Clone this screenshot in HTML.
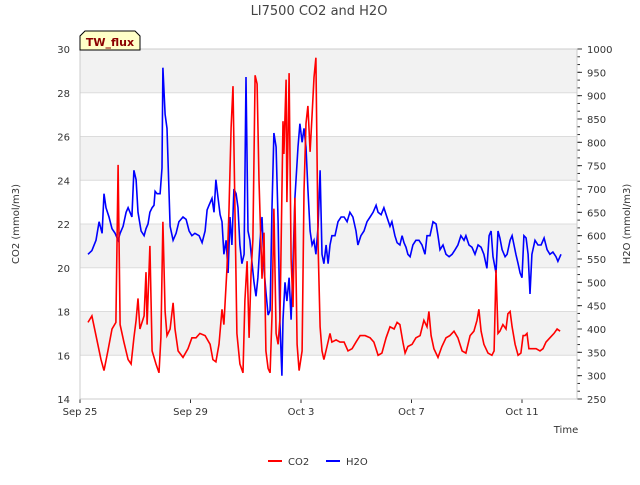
<!DOCTYPE html>
<html><head><meta charset="utf-8"><style>
body{margin:0;background:#fff;font-family:"Liberation Sans",sans-serif}
svg text{font-family:"DejaVu Sans","Liberation Sans",sans-serif}
</style></head><body>
<svg id="c" width="640" height="480" xmlns="http://www.w3.org/2000/svg"></svg>
<script>
const xTickLabels=["Sep 25","Sep 29","Oct 3","Oct 7","Oct 11"];
const xTickDays=[0,4,8,12,16];
const yLeftTicks=[14,16,18,20,22,24,26,28,30];
const yRightTicks=[250,300,350,400,450,500,550,600,650,700,750,800,850,900,950,1000];
const co2Days=[0.29,0.43,0.58,0.76,0.87,1.01,1.16,1.30,1.38,1.45,1.59,1.74,1.85,1.95,2.03,2.10,2.17,2.32,2.39,2.43,2.53,2.61,2.75,2.86,2.93,3.00,3.08,3.15,3.26,3.37,3.44,3.55,3.73,3.91,4.05,4.20,4.34,4.53,4.71,4.81,4.92,5.03,5.14,5.21,5.32,5.39,5.47,5.54,5.61,5.68,5.79,5.90,5.97,6.05,6.12,6.19,6.26,6.34,6.41,6.48,6.59,6.66,6.73,6.81,6.88,6.95,7.02,7.10,7.17,7.24,7.35,7.38,7.46,7.49,7.57,7.64,7.71,7.78,7.86,7.93,8.04,8.11,8.18,8.25,8.33,8.40,8.47,8.54,8.62,8.69,8.76,8.83,8.94,9.05,9.12,9.27,9.41,9.56,9.70,9.85,9.99,10.14,10.32,10.50,10.64,10.79,10.93,11.08,11.22,11.37,11.48,11.58,11.69,11.77,11.87,12.02,12.16,12.31,12.45,12.56,12.63,12.71,12.81,12.96,13.10,13.25,13.39,13.54,13.68,13.83,13.97,14.12,14.26,14.37,14.44,14.52,14.62,14.77,14.91,14.99,15.06,15.13,15.20,15.31,15.42,15.49,15.57,15.64,15.75,15.86,15.96,16.04,16.11,16.18,16.25,16.36,16.51,16.65,16.76,16.87,17.01,17.16,17.27,17.38];
const co2Values=[17.5,17.8,16.9,15.8,15.3,16.2,17.2,17.5,24.7,17.4,16.6,15.8,15.6,16.8,17.6,18.6,17.2,17.8,19.8,17.4,21,16.2,15.6,15.2,16.8,22.1,18,16.9,17.2,18.4,17.2,16.2,15.9,16.3,16.8,16.8,17,16.9,16.5,15.8,15.7,16.5,18.1,17.4,20,22.5,26.4,28.3,22.5,17,15.6,15.2,18.5,20.3,16.8,19.7,21.3,28.8,28.4,24,19.5,21.6,16.2,15.4,15.2,17.8,22.7,17,16.5,17.7,26.7,25.2,28.6,23,28.9,20.4,18.2,23.2,16.5,15.3,16.2,23.5,26.6,27.4,25.3,27,28.7,29.6,21,17.3,16.2,15.8,16.4,17,16.6,16.7,16.6,16.6,16.2,16.3,16.6,16.9,16.9,16.8,16.6,16,16.1,16.8,17.3,17.2,17.5,17.4,16.6,16.1,16.4,16.5,16.8,16.9,17.6,17.3,18,16.9,16.3,15.9,16.4,16.8,16.9,17.1,16.8,16.2,16.1,16.9,17.1,17.6,18.1,17.1,16.5,16.1,16,16.2,19.9,17,17.1,17.4,17.2,17.9,18,17.3,16.5,16,16.1,16.9,16.9,17,16.3,16.3,16.3,16.2,16.3,16.6,16.8,17,17.2,17.1];
const h2oDays=[0.29,0.43,0.58,0.69,0.80,0.87,0.94,1.05,1.16,1.27,1.38,1.45,1.56,1.67,1.74,1.81,1.88,1.95,2.03,2.10,2.21,2.32,2.39,2.46,2.53,2.61,2.68,2.72,2.79,2.90,2.97,3.00,3.08,3.15,3.26,3.37,3.48,3.58,3.73,3.84,3.95,4.05,4.16,4.31,4.42,4.53,4.60,4.67,4.78,4.85,4.92,5.00,5.07,5.14,5.21,5.29,5.36,5.43,5.50,5.57,5.65,5.72,5.79,5.86,5.94,6.01,6.08,6.15,6.23,6.30,6.37,6.44,6.52,6.59,6.66,6.73,6.81,6.88,6.95,7.02,7.10,7.17,7.24,7.31,7.35,7.42,7.49,7.57,7.64,7.71,7.78,7.89,7.96,8.04,8.11,8.18,8.25,8.33,8.40,8.47,8.54,8.62,8.69,8.76,8.83,8.91,8.98,9.05,9.12,9.23,9.34,9.45,9.56,9.67,9.77,9.88,9.99,10.06,10.17,10.28,10.39,10.50,10.61,10.72,10.79,10.90,11.00,11.11,11.22,11.29,11.40,11.48,11.58,11.66,11.73,11.80,11.87,11.95,12.05,12.16,12.27,12.38,12.49,12.56,12.67,12.78,12.89,12.96,13.03,13.14,13.25,13.36,13.47,13.58,13.68,13.79,13.90,13.97,14.08,14.19,14.30,14.41,14.52,14.62,14.73,14.81,14.88,14.95,15.06,15.13,15.20,15.28,15.39,15.46,15.57,15.64,15.71,15.78,15.86,15.93,16.00,16.07,16.15,16.22,16.29,16.36,16.47,16.58,16.69,16.80,16.91,17.01,17.12,17.23,17.30,17.41];
const h2oValues=[560,568,590,630,605,690,660,640,615,605,590,605,620,650,660,650,640,740,720,650,610,600,615,625,650,660,665,695,690,690,745,960,860,830,620,590,605,630,640,635,610,600,605,600,585,610,655,665,680,650,720,680,645,630,560,590,520,640,580,700,690,660,580,540,560,940,610,590,540,500,470,510,590,640,530,480,430,440,660,820,790,630,410,300,420,500,460,510,420,540,680,790,840,800,830,790,700,610,580,590,560,620,740,560,540,580,540,580,600,600,630,640,640,630,650,640,610,580,600,610,630,640,650,665,650,645,660,640,620,630,600,585,580,600,585,575,560,555,580,590,590,580,560,600,600,630,625,600,570,580,560,555,560,570,580,600,590,600,580,575,560,580,575,560,530,600,610,555,520,610,595,570,555,560,590,600,580,560,540,520,510,600,595,560,475,560,590,580,580,595,570,560,565,555,545,560];

const NS="http://www.w3.org/2000/svg";
const svg=document.getElementById('c');
const L=80,R=577,T=49,B=399;
const xS=d=>L+d*27.625;
const yL=v=>B-(v-14)*(B-T)/16;
const yR=v=>B-(v-250)*(B-T)/750;
function mk(tag,attrs,parent){const e=document.createElementNS(NS,tag);for(const k in attrs)e.setAttribute(k,attrs[k]);(parent||svg).appendChild(e);return e;}

const bg=mk('rect',{x:L,y:T,width:R-L,height:B-T,fill:'#fff'});


for(let i=0;i<yLeftTicks.length-1;i++){
  if(i%2===1){
    const b=mk('rect',{x:L,y:yL(yLeftTicks[i+1]),width:R-L,height:yL(yLeftTicks[i])-yL(yLeftTicks[i+1]),fill:'#f2f2f2'});
    
    
  }
}
yLeftTicks.forEach(v=>{
  const g=mk('line',{x1:L,x2:R,y1:yL(v),y2:yL(v),stroke:'#dcdcdc','stroke-width':1});
  
  
  const t=mk('text',{x:L-10,y:yL(v)+4,'text-anchor':'end','font-size':10,fill:'#333'});
  t.textContent=v;
  
  
});
for(let v=250;v<=1000;v+=50/3){
  const m=mk('line',{x1:R,x2:R+3,y1:yR(v),y2:yR(v),stroke:'#333','stroke-width':1});
  
  
}
yRightTicks.forEach(v=>{
  const m=mk('line',{x1:R,x2:R+5,y1:yR(v),y2:yR(v),stroke:'#333','stroke-width':1});
  
  
  const t=mk('text',{x:R+10,y:yR(v)+4,'font-size':10,fill:'#333'});
  t.textContent=v;
  
  
});
xTickDays.forEach((d,i)=>{
  const m=mk('line',{x1:xS(d),x2:xS(d),y1:B,y2:B+4,stroke:'#333'});
  
  
  const t=mk('text',{x:xS(d),y:B+16,'text-anchor':'middle','font-size':10,fill:'#333'});
  t.textContent=xTickLabels[i];
  
  
});
const fr=mk('rect',{x:L,y:T,width:R-L,height:B-T,fill:'none',stroke:'#ccc'});



const p1=mk('polyline',{points:h2oDays.map((d,i)=>xS(d).toFixed(1)+','+yR(h2oValues[i]).toFixed(1)).join(' '),fill:'none',stroke:'#0000ff','stroke-width':1.6});


const p2=mk('polyline',{points:co2Days.map((d,i)=>xS(d).toFixed(1)+','+yL(co2Values[i]).toFixed(1)).join(' '),fill:'none',stroke:'#ff0000','stroke-width':1.6});


</script>
<svg width="640" height="480" style="position:absolute;left:0;top:0" xmlns="http://www.w3.org/2000/svg">
<text x="319" y="15" text-anchor="middle" font-size="13" fill="#444">LI7500 CO2 and H2O</text>
<g>
<path d="M80,50 L80,36 L85,31 L135,31 L140,36 L140,50 Z" fill="#ffffc8" stroke="#000" stroke-width="1"/>
<text x="110" y="46" text-anchor="middle" font-size="11" font-weight="bold" fill="#8b0000">TW_flux</text>
</g>
<text transform="translate(19,224) rotate(-90)" text-anchor="middle" font-size="10" fill="#333">CO2 (mmol/m3)</text>
<text transform="translate(630,224) rotate(-90)" text-anchor="middle" font-size="10" fill="#333">H2O (mmol/m3)</text>
<text x="566" y="433" text-anchor="middle" font-size="10" fill="#333">Time</text>
<g>
<line x1="268" x2="282" y1="461" y2="461" stroke="#ff0000" stroke-width="2"/>
<text x="288" y="465" font-size="10" fill="#333">CO2</text>
</g>
<g>
<line x1="326" x2="340" y1="461" y2="461" stroke="#0000ff" stroke-width="2"/>
<text x="346" y="465" font-size="10" fill="#333">H2O</text>
</g>
</svg>
</body></html>
